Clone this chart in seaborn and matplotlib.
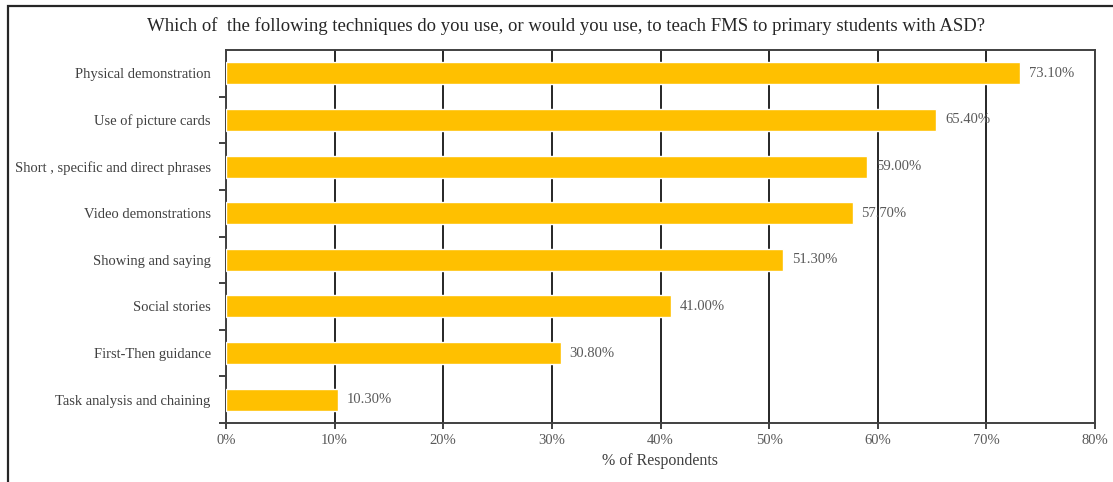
import matplotlib
matplotlib.use("Agg")
import matplotlib.pyplot as plt
import seaborn as sns
import pandas as pd
import numpy as np
from matplotlib.patches import Rectangle
from matplotlib.ticker import FuncFormatter, FixedLocator

techniques = [
    "Physical demonstration",
    "Use of picture cards",
    "Short , specific and direct phrases",
    "Video demonstrations",
    "Showing and saying",
    "Social stories",
    "First-Then guidance",
    "Task analysis and chaining",
]
percent = [73.10, 65.40, 59.00, 57.70, 51.30, 41.00, 30.80, 10.30]
x_ticks = [0, 10, 20, 30, 40, 50, 60, 70, 80]

df = pd.DataFrame({"technique": techniques, "percent": percent})

sns.set_theme(style="white")
plt.rcParams["font.family"] = ["Liberation Serif", "DejaVu Serif"]

text_grey = "#595959"
bar_color = "#FFC000"

fig = plt.figure(figsize=(11.13, 4.82), dpi=100)
ax = fig.add_axes([226 / 1113, 1 - 423 / 482, (1095 - 226) / 1113, (423 - 50) / 482])

sns.barplot(data=df, x="percent", y="technique", order=techniques,
            color=bar_color, saturation=1, width=0.47, ax=ax, zorder=3)

ax.set_xlim(0, 80)
ax.set_ylim(len(techniques) - 0.5, -0.5)
ax.xaxis.set_major_locator(FixedLocator(x_ticks))
ax.xaxis.set_major_formatter(FuncFormatter(lambda v, p: f"{v:.0f}%"))
ax.grid(axis="x", color="#262626", linewidth=1.4, zorder=1)
ax.grid(axis="y", visible=False)
ax.set_axisbelow(True)

for s in ax.spines.values():
    s.set_color("#404040")
    s.set_linewidth(1.4)
    s.set_visible(True)

# category separators as outward ticks on the value axis
ax.yaxis.set_minor_locator(FixedLocator(np.arange(0.5, len(techniques), 1.0)))
ax.tick_params(axis="y", which="major", length=0, labelsize=10.5, labelcolor="#404040", pad=11)
ax.tick_params(axis="y", which="minor", length=5, width=1.4, color="#404040", direction="out", left=True)
ax.tick_params(axis="x", which="major", length=4, width=1.4, color="#404040", direction="out",
               bottom=True, labelsize=10.5, labelcolor=text_grey, pad=4)

ax.set_ylabel("")
ax.set_xlabel("% of Respondents", fontsize=11.5, color="#404040", labelpad=4)

for i, v in enumerate(percent):
    ax.text(v + 0.8, i, f"{v:.2f}%", va="center", ha="left", fontsize=10.5,
            color=text_grey, zorder=4)

fig.text(566 / 1113, 1 - 26 / 482,
         "Which of  the following techniques do you use, or would you use, to teach FMS to primary students with ASD?",
         ha="center", va="center", fontsize=13.5, color="#262626")

# outer chart border
fig.patches.append(Rectangle((8 / 1113, -0.1), 1.2, 1 - 6 / 482 + 0.1,
                             transform=fig.transFigure, fill=False,
                             edgecolor="#262626", linewidth=1.6))

fig.savefig("out.png", dpi=100)
